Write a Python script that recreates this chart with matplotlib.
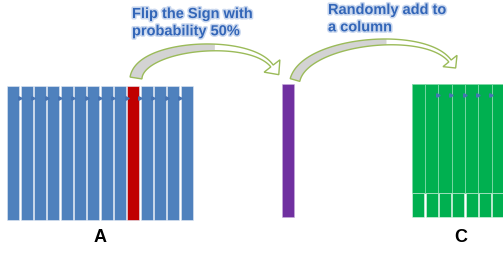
import numpy as np
import matplotlib.pyplot as plt
from matplotlib.patches import Polygon
import matplotlib.patheffects as pe

# diagram content
a_cols = 14          # columns in matrix A
a_flipped = 9        # index of the column whose sign is flipped
c_cols = 7           # visible columns of matrix C
labels = ["A", "C"]
captions = ["Flip the Sign with\nprobability 50%", "Randomly add to\na column"]

blue = "#4F81BD"
red = "#C00000"
purple = "#7030A0"
green = "#00B050"
arrow_edge = "#9BBB59"
text_blue = "#3366B8"


def bezier(p, t):
    p = np.asarray(p, dtype=float)
    t = t[:, None]
    return ((1 - t)**3 * p[0] + 3 * t * (1 - t)**2 * p[1]
            + 3 * t**2 * (1 - t) * p[2] + t**3 * p[3])


def curved_arrow(ax, ctrl, w0, w1, head_w, head_l, gray_to=0.6):
    t = np.linspace(0, 1, 80)
    c = bezier(ctrl, t)
    d = np.gradient(c, axis=0)
    d /= np.linalg.norm(d, axis=1)[:, None]
    n = np.column_stack([d[:, 1], -d[:, 0]])   # points to the upper side
    w = (w0 + (w1 - w0) * t)[:, None] / 2
    outer = c + n * w
    inner = c - n * w
    end, de, ne = c[-1], d[-1], n[-1]
    head = [end + ne * head_w / 2, end + de * head_l, end - ne * head_w / 2]
    pts = np.vstack([outer, head, inner[::-1]])
    ax.add_patch(Polygon(pts, closed=True, fc="white", ec="none", zorder=3))
    k = t <= gray_to
    gray = np.vstack([outer[k], inner[k][::-1]])
    ax.add_patch(Polygon(gray, closed=True, fc="#D3D3D3", ec="none", zorder=4))
    ax.add_patch(Polygon(pts, closed=True, fc="none", ec=arrow_edge, lw=1.0,
                         joinstyle="miter", zorder=5))


fig = plt.figure(figsize=(5.03, 2.54), dpi=100)
ax = fig.add_axes([0, 0, 1, 1])
ax.set_xlim(0, 503)
ax.set_ylim(254, 0)
ax.axis("off")

pitch = 13.33

# matrix A
xa = 7.3 + 6 + np.arange(a_cols) * pitch
colors_a = [red if i == a_flipped else blue for i in range(a_cols)]
ax.bar(xa, 134, width=12, bottom=86, color=colors_a, edgecolor="#E3EAF4",
       linewidth=0.4, zorder=2)
ax.plot(xa[:-1] + pitch / 2, np.full(a_cols - 1, 98), ls="none", marker=">",
        ms=2.5, color="#4674B4", zorder=2.5)

# flipped column
ax.bar([288], 133, width=12, bottom=84, color=purple, edgecolor="#C8B0DC",
       linewidth=0.4, zorder=2)

# matrix C
xc = 412 + 6.5 + np.arange(c_cols) * pitch
ax.bar(xc, 109, width=pitch, bottom=84, color=green, edgecolor="#7FD9A8",
       linewidth=0.6, zorder=2)
ax.bar(xc, 24, width=12, bottom=193, color=green, edgecolor="#E0F5E8",
       linewidth=0.4, zorder=2)
ax.plot(xc[1:-1] + pitch / 2 - 0.5, np.full(c_cols - 2, 95), ls="none",
        marker=">", ms=2.5, color="#4674B4", zorder=2.5)

# labels
ax.text(100, 238, labels[0], ha="center", va="center", fontsize=13,
        fontweight="bold", family="Liberation Sans")
ax.text(461, 238, labels[1], ha="center", va="center", fontsize=13,
        fontweight="bold", family="Liberation Sans")

# arrows
curved_arrow(ax, [(136, 78), (140, 44), (250, 36), (272, 66)], 12, 3, 20, 11)
curved_arrow(ax, [(295, 80), (305, 40), (425, 28), (450, 61)], 10, 3, 18, 9)

# captions
glow = [pe.withStroke(linewidth=2.2, foreground="#C9D7EE")]
ax.text(132, 7, captions[0], ha="left", va="top", fontsize=10.5,
        fontweight="bold", color=text_blue, family="Liberation Sans",
        linespacing=1.3, path_effects=glow, zorder=6)
ax.text(328, 3, captions[1], ha="left", va="top", fontsize=10.5,
        fontweight="bold", color=text_blue, family="Liberation Sans",
        linespacing=1.3, path_effects=glow, zorder=6)

fig.savefig("out.png", dpi=100)
